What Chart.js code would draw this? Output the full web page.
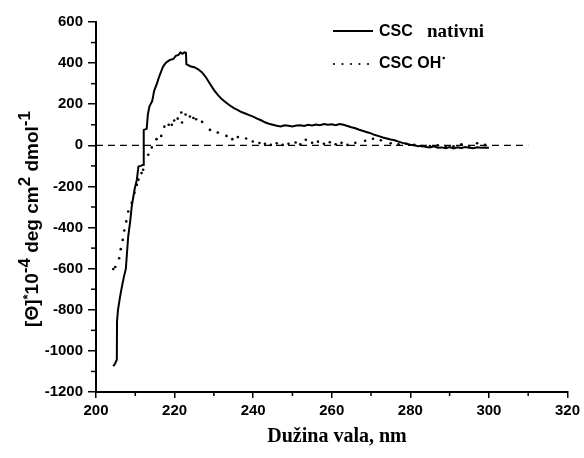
<!DOCTYPE html>
<html><head><meta charset="utf-8">
<script src="https://cdn.jsdelivr.net/npm/chart.js@4/dist/chart.umd.min.js"></script>
<style>html,body{margin:0;padding:0;background:#fff}#wrap{width:584px;height:458px}</style>
</head><body><div id="wrap"><canvas id="c" width="584" height="458"></canvas></div>
<script>
// Wavelength (nm) and ellipticity values
const nativniX = [204.4,204.9,205.3,205.35,205.6,206.1,206.6,207.1,207.6,207.9,208.2,208.7,209.1,209.5,209.8,210.4,210.8,211.4,212.0,212.1,212.2,212.9,213.2,213.6,214.3,214.8,215.5,216.0,216.4,217.0,217.5,218.0,218.8,219.7,220.3,221.0,221.5,222.0,222.5,222.9,223.0,224,225,226,227,228,229,230,231,232,233,234,235,236,237,238,239,240,241,242,243,244,245,246,247,248,249,250,251,252,253,254,255,256,257,258,259,260,261,262,263,264,265,266,267,268,269,270,271,272,273,274,275,276,277,278,279,280,281,282,283,284,285,286,287,288,289,290,291,292,293,294,295,296,297,298,299,300];
const nativniY = [-1075,-1060,-1043,-857,-800,-740,-687,-640,-600,-520,-443,-370,-297,-250,-216,-167,-103,-100,-95,-20,75,80,150,190,215,265,300,330,350,380,395,405,415,420,435,440,452,445,452,450,395,385,380,370,355,330,300,270,245,225,210,195,182,172,162,155,147,140,130,122,112,105,100,95,92,98,95,92,96,98,94,100,97,101,98,104,100,103,98,104,100,94,88,83,76,70,64,58,50,45,38,33,28,25,18,12,8,3,0,-4,-2,-8,-10,-5,-12,-10,-14,-8,-15,-10,-13,-8,-12,-14,-9,-12,-10,-12];
const ohX = [204.4,204.9,205.9,206.3,206.8,207.2,207.7,208.2,209.1,209.8,210.4,210.8,211.6,212.0,213.3,214.2,215.4,216.6,217.4,218.5,219.3,219.9,220.8,221.9,221.7,222.8,223.9,224.8,225.5,227.0,229.0,231.0,233.2,234.7,236.1,238.2,239.9,241.6,243.0,244.5,246.0,247.5,249.0,250.8,252.0,253.4,255.0,256.5,258.0,259.5,261.0,262.5,264.0,266.0,268.5,270.5,272.5,275.0,277.0,279.0,281.0,283.0,285.0,287.0,289.0,291.0,293.0,295.0,297.0,299.0];
const ohY = [-602,-592,-549,-505,-460,-414,-370,-322,-280,-231,-192,-167,-135,-119,-46,-10,30,46,91,100,100,121,130,111,160,150,140,133,127,114,75,62,46,30,40,33,19,11,8,2,10,2,8,14,5,27,12,18,8,15,5,12,2,12,22,32,25,10,5,8,2,-5,-3,0,-8,-5,5,-3,10,2];
const baselineX = [200, 310];
const baselineY = [0, 0];
const xTicks = [200, 220, 240, 260, 280, 300, 320];
const yTicks = [-1200, -1000, -800, -600, -400, -200, 0, 200, 400, 600];
const legendLabels = ['CSC', 'nativni', 'CSC OH'];

const pts = (xs, ys) => xs.map((x, i) => ({x, y: ys[i]}));

const SANS = '"Liberation Sans", Arial, sans-serif';
const SERIF = '"Liberation Serif", "Times New Roman", serif';

const decor = {
  id: 'decor',
  afterDraw(chart) {
    const ctx = chart.ctx;
    const xs = chart.scales.x, ys = chart.scales.y;
    const ca = chart.chartArea;
    ctx.save();
    ctx.strokeStyle = '#000';
    ctx.lineWidth = 1.5;
    // minor ticks
    for (let v = 210; v < 320; v += 20) {
      const px = xs.getPixelForValue(v);
      ctx.beginPath(); ctx.moveTo(px, ca.bottom); ctx.lineTo(px, ca.bottom + 4); ctx.stroke();
    }
    for (let v = -1100; v < 600; v += 200) {
      const py = ys.getPixelForValue(v);
      ctx.beginPath(); ctx.moveTo(ca.left, py); ctx.lineTo(ca.left - 5, py); ctx.stroke();
    }
    // legend
    ctx.lineWidth = 2;
    ctx.beginPath(); ctx.moveTo(333, 31); ctx.lineTo(373, 31); ctx.stroke();
    ctx.fillStyle = '#000';
    for (let i = 0; i < 5; i++) {
      ctx.beginPath(); ctx.arc(334 + i * 8.5, 64, 1.1, 0, Math.PI * 2); ctx.fill();
    }
    ctx.textBaseline = 'alphabetic';
    ctx.textAlign = 'left';
    ctx.font = 'bold 16px ' + SANS;
    ctx.fillText(legendLabels[0], 379, 36);
    ctx.font = 'bold 19px ' + SERIF;
    ctx.fillText(legendLabels[1], 427, 37);
    ctx.font = 'bold 16px ' + SANS;
    ctx.fillText(legendLabels[2], 379, 68);
    const w = ctx.measureText(legendLabels[2]).width;
    ctx.beginPath(); ctx.arc(379 + w + 2.5, 58, 1.3, 0, Math.PI * 2); ctx.fill();
    // x title
    ctx.font = 'bold 20px ' + SERIF;
    ctx.textAlign = 'center';
    ctx.textBaseline = 'middle';
    ctx.fillText('Dužina vala, nm', 337, 437);
    // y title with superscripts
    const segs = [
      ['[Θ]', 0, 19], ['*', 6, 13], ['10', 0, 19], ['-4', 8, 17], [' deg cm', 0, 19], ['2', 8, 17], [' dmol', 0, 19], ['-1', 8, 17]
    ];
    let total = 0;
    for (const s of segs) { ctx.font = 'bold ' + s[2] + 'px ' + SANS; s.push(ctx.measureText(s[0]).width); total += s[3]; }
    ctx.translate(38, 219);
    ctx.rotate(-Math.PI / 2);
    ctx.textAlign = 'left';
    ctx.textBaseline = 'alphabetic';
    let cx = -total / 2;
    for (const s of segs) {
      ctx.font = 'bold ' + s[2] + 'px ' + SANS;
      ctx.fillText(s[0], cx, -s[1]);
      cx += s[3];
    }
    ctx.restore();
  }
};

new Chart(document.getElementById('c'), {
  type: 'scatter',
  data: {
    datasets: [
      { label: 'CSC nativni', data: pts(nativniX, nativniY), showLine: true, borderColor: '#000', borderWidth: 2, pointRadius: 0, tension: 0 },
      { label: 'CSC OH', data: pts(ohX, ohY), showLine: false, pointRadius: 1.3, pointBackgroundColor: '#000', pointBorderWidth: 0, borderColor: '#000' },
      { label: 'zero', data: pts(baselineX, baselineY), showLine: true, borderColor: '#000', borderWidth: 1.2, borderDash: [7, 5], pointRadius: 0 }
    ]
  },
  options: {
    responsive: false,
    animation: false,
    events: [],
    layout: { padding: { top: 22, right: 13, left: 0, bottom: 0 } },
    plugins: { legend: { display: false }, tooltip: { enabled: false } },
    scales: {
      x: {
        type: 'linear', min: 200, max: 320,
        afterBuildTicks: (s) => { s.ticks = xTicks.map(v => ({value: v})); },
        afterFit: (s) => { s.height = 66; },
        ticks: { color: '#000', font: { family: SANS, size: 15, weight: 'bold' }, padding: 4, maxRotation: 0, callback: (v) => String(v) },
        grid: { drawOnChartArea: false, color: '#000', lineWidth: 1.5, tickLength: 6 },
        border: { color: '#000', width: 2 }
      },
      y: {
        type: 'linear', min: -1200, max: 600,
        afterBuildTicks: (s) => { s.ticks = yTicks.map(v => ({value: v})); },
        afterFit: (s) => { s.width = 96; },
        ticks: { color: '#000', font: { family: SANS, size: 15, weight: 'bold' }, padding: 5, callback: (v) => String(v) },
        grid: { drawOnChartArea: false, color: '#000', lineWidth: 1.5, tickLength: 8 },
        border: { color: '#000', width: 2 }
      }
    }
  },
  plugins: [decor]
});
</script></body></html>
